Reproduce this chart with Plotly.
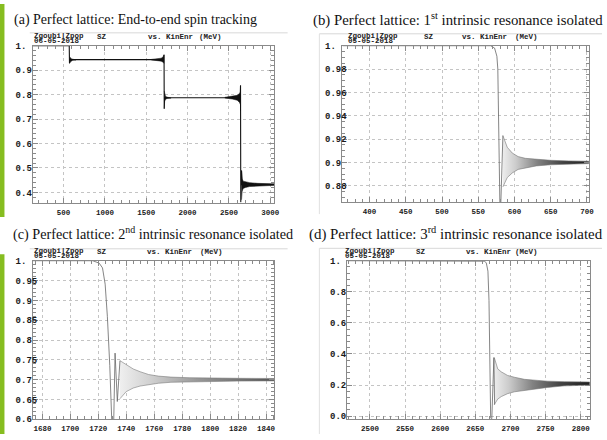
import plotly.graph_objects as go

W, H = 607, 440

# ---------------- data ----------------
# Panel (a): end-to-end tracking, SZ vs kinetic energy (MeV)
a_energy = [130, 568, 571, 575, 1712, 1715, 1717, 1721, 2636, 2640, 2643, 2652, 2658, 3050]
a_sz = [1.0, 1.0, 0.928, 0.943, 0.943, 0.963, 0.742, 0.787, 0.787, 0.838, 0.36, 0.49, 0.432, 0.432]
# ringing envelopes in panel (a)
a1_energy = [573, 580, 592, 610, 650]
a1_upper = [0.955, 0.951, 0.947, 0.945, 0.944]
a1_lower = [0.928, 0.933, 0.938, 0.941, 0.942]
a2_energy = [1560, 1630, 1680, 1705, 1714]
a2_upper = [0.944, 0.946, 0.949, 0.955, 0.963]
a2_lower = [0.942, 0.940, 0.937, 0.932, 0.928]
a3_energy = [1717, 1722, 1732, 1750, 1800]
a3_upper = [0.815, 0.798, 0.793, 0.790, 0.788]
a3_lower = [0.742, 0.772, 0.780, 0.784, 0.786]
a4_energy = [2450, 2540, 2600, 2628, 2638]
a4_upper = [0.789, 0.792, 0.797, 0.805, 0.810]
a4_lower = [0.786, 0.782, 0.777, 0.768, 0.760]
a5_energy = [2652, 2660, 2672, 2700, 2750, 2850, 3050]
a5_upper = [0.490, 0.455, 0.446, 0.443, 0.440, 0.437, 0.435]
a5_lower = [0.370, 0.405, 0.416, 0.420, 0.424, 0.427, 0.429]

# Panel (b): 1st intrinsic resonance
b_energy = [362.5, 567, 572.5, 575.7, 577, 577.9, 578.8, 579.8, 581, 584]
b_sz = [1.0, 1.0, 0.998, 0.991, 0.98, 0.952, 0.91, 0.866, 0.862, 0.923]
b_band_energy = [584, 590, 597, 605, 615, 630, 650, 675, 703]
b_upper = [0.923, 0.913, 0.908, 0.905, 0.9035, 0.9025, 0.9018, 0.9013, 0.901]
b_lower = [0.879, 0.887, 0.891, 0.894, 0.8955, 0.897, 0.898, 0.8985, 0.899]

# Panel (c): 2nd intrinsic resonance
c_energy = [1673.3, 1716, 1720.6, 1723, 1724.9, 1726.5, 1728.2, 1729.6, 1731, 1732, 1733.6, 1735.5]
c_sz = [1.0, 1.0, 0.994, 0.982, 0.941, 0.859, 0.736, 0.6, 0.59, 0.767, 0.645, 0.748]
c_band_energy = [1735.5, 1740, 1745, 1750, 1756, 1763, 1772, 1785, 1800, 1820, 1846]
c_upper = [0.748, 0.737, 0.727, 0.720, 0.713, 0.709, 0.7065, 0.705, 0.704, 0.7035, 0.703]
c_lower = [0.652, 0.670, 0.679, 0.684, 0.688, 0.691, 0.6935, 0.695, 0.696, 0.6965, 0.697]

# Panel (d): 3rd intrinsic resonance
d_energy = [2468, 2660, 2663.4, 2665.7, 2668, 2669.5, 2670.5, 2671.9, 2673.5, 2676.5, 2677.5]
d_sz = [1.0, 1.0, 0.997, 0.985, 0.933, 0.745, 0.43, -0.01, -0.02, 0.377, 0.074]
d_band_energy = [2677, 2682, 2687, 2696, 2706, 2720, 2739, 2753, 2777, 2813]
d_upper = [0.377, 0.304, 0.285, 0.262, 0.250, 0.237, 0.230, 0.225, 0.222, 0.220]
d_lower = [0.074, 0.110, 0.126, 0.145, 0.157, 0.168, 0.178, 0.185, 0.195, 0.200]

# tick values / labels
a_xticks = [500, 1000, 1500, 2000, 2500, 3000]
a_yticks = [0.4, 0.5, 0.6, 0.7, 0.8, 0.9, 1.0]
a_ylabels = ["0.4", "0.5", "0.6", "0.7", "0.8", "0.9", "1."]
b_xticks = [400, 450, 500, 550, 600, 650, 700]
b_yticks = [0.88, 0.9, 0.92, 0.94, 0.96, 0.98, 1.0]
b_ylabels = ["0.88", "0.9", "0.92", "0.94", "0.96", "0.98", "1."]
c_xticks = [1680, 1700, 1720, 1740, 1760, 1780, 1800, 1820, 1840]
c_yticks = [0.6, 0.65, 0.7, 0.75, 0.8, 0.85, 0.9, 0.95, 1.0]
c_ylabels = ["0.6", "0.65", "0.7", "0.75", "0.8", "0.85", "0.9", "0.95", "1."]
d_xticks = [2500, 2550, 2600, 2650, 2700, 2750, 2800]
d_yticks = [0.0, 0.2, 0.4, 0.6, 0.8, 1.0]
d_ylabels = ["0.0", "0.2", "0.4", "0.6", "0.8", "1."]

captions = [
    "(a) Perfect lattice: End-to-end spin tracking",
    "(b) Perfect lattice: 1<sup>st</sup> intrinsic resonance isolated",
    "(c) Perfect lattice: 2<sup>nd</sup> intrinsic resonance isolated",
    "(d) Perfect lattice: 3<sup>rd</sup> intrinsic resonance isolated",
]
dates = ["06-05-2018", "05-05-2018", "05-05-2018", "05-05-2018"]

# ---------------- figure ----------------
def PX(px):
    return px / W


def PY(py):
    return 1 - py / H


fig = go.Figure()


def band(xname, yname, e, up, lo, fillcolor=None, gradient=None, edge="#666", ew=0.6):
    kw = dict(
        x=list(e) + list(reversed(e)),
        y=list(up) + list(reversed(lo)),
        xaxis=xname, yaxis=yname, mode="lines", fill="toself",
        line=dict(color=edge, width=ew), showlegend=False, hoverinfo="skip",
    )
    if gradient is not None:
        kw["fillgradient"] = dict(type="horizontal", colorscale=gradient)
    else:
        kw["fillcolor"] = fillcolor
    fig.add_trace(go.Scatter(**kw))


def curve(xname, yname, e, s, color="#222", width=1):
    fig.add_trace(go.Scatter(x=e, y=s, xaxis=xname, yaxis=yname, mode="lines",
                             line=dict(color=color, width=width),
                             showlegend=False, hoverinfo="skip"))


# panel (a)
for e, up, lo in [(a1_energy, a1_upper, a1_lower), (a2_energy, a2_upper, a2_lower),
                  (a3_energy, a3_upper, a3_lower), (a4_energy, a4_upper, a4_lower),
                  (a5_energy, a5_upper, a5_lower)]:
    band("x", "y", e, up, lo, fillcolor="#111", edge="#111", ew=0.5)
curve("x", "y", a_energy, a_sz, color="#111", width=1.1)

# panel (b)
band("x2", "y2", b_band_energy, b_upper, b_lower,
     gradient=[[0, "#ececec"], [0.15, "#cccccc"], [0.4, "#828282"], [0.7, "#424242"], [1, "#202020"]],
     edge="#777777")
curve("x2", "y2", b_energy, b_sz, color="#666", width=0.8)

# panel (c)
band("x3", "y3", c_band_energy, c_upper, c_lower,
     gradient=[[0, "#efefef"], [0.2, "#d0d0d0"], [0.5, "#989898"], [1, "#555555"]],
     edge="#7c7c7c")
curve("x3", "y3", c_energy, c_sz, color="#666", width=0.8)

# panel (d)
band("x4", "y4", d_band_energy, d_upper, d_lower,
     gradient=[[0, "#ececec"], [0.15, "#cccccc"], [0.4, "#828282"], [0.7, "#424242"], [1, "#202020"]],
     edge="#777777")
curve("x4", "y4", d_energy, d_sz, color="#666", width=0.8)

FRAME = "#8a8a8a"
GRID = "#c4c4c4"
MONO = "Liberation Mono"


def pad(lbls):
    return [l + "\u00a0" * (4 - len(l)) for l in lbls]


def xaxis(domain, rng, ticks, minor_dtick):
    return dict(domain=domain, range=rng, tickmode="array", tickvals=ticks,
                ticktext=[str(t) for t in ticks],
                showline=True, linecolor=FRAME, linewidth=1, mirror="allticks",
                ticks="inside", ticklen=5, tickcolor=FRAME,
                showgrid=True, gridcolor=GRID, griddash="dot", gridwidth=1, zeroline=False,
                tickfont=dict(family=MONO, size=7.5, color="#1a1a1a", weight="bold"),
                minor=dict(ticks="inside", ticklen=3, tickcolor=FRAME, tickmode="linear",
                           tick0=0, dtick=minor_dtick, showgrid=False),
                ticklabelstandoff=2)


def yaxis(domain, rng, ticks, labels, minor_dtick, anchor):
    return dict(domain=domain, range=rng, tickmode="array", tickvals=ticks,
                ticktext=pad(labels), anchor=anchor,
                showline=True, linecolor=FRAME, linewidth=1, mirror="allticks",
                ticks="inside", ticklen=5, tickcolor=FRAME,
                showgrid=True, gridcolor=GRID, griddash="dot", gridwidth=1, zeroline=False,
                tickfont=dict(family=MONO, size=9, color="#1a1a1a", weight="bold"),
                minor=dict(ticks="inside", ticklen=3, tickcolor=FRAME, tickmode="linear",
                           tick0=0, dtick=minor_dtick, showgrid=False),
                ticklabelstandoff=-7)


fig.update_layout(
    width=W, height=H, margin=dict(l=0, r=0, t=0, b=0),
    paper_bgcolor="white", plot_bgcolor="white",
    xaxis=dict(**xaxis([PX(33.3), PX(276.7)], [130, 3050], a_xticks, 100), anchor="y"),
    yaxis=yaxis([PY(203.3), PY(42.7)], [0.358, 1.0], a_yticks, a_ylabels, 0.02, "x"),
    xaxis2=dict(**xaxis([PX(345.3), PX(593.7)], [362.5, 702.6], b_xticks, 10), anchor="y2"),
    yaxis2=yaxis([PY(202.7), PY(42.7)], [0.866, 1.0], b_yticks, b_ylabels, 0.005, "x2"),
    xaxis3=dict(**xaxis([PX(33.3), PX(276.7)], [1673.3, 1846], c_xticks, 5), anchor="y3"),
    yaxis3=yaxis([PY(425), PY(262.7)], [0.6, 1.0], c_yticks, c_ylabels, 0.01, "x3"),
    xaxis4=dict(**xaxis([PX(350.3), PX(594.7)], [2468, 2813], d_xticks, 10), anchor="y4"),
    yaxis4=yaxis([PY(424.3), PY(262.7)], [-0.016, 1.0], d_yticks, d_ylabels, 0.04, "x4"),
)

# captions
cap_pos = [(13, 16.8, 14), (314.7, 16.0, 14.8), (11.7, 235.0, 14.2), (310.3, 235.0, 14.9)]
annotations = []
for txt, (cx, cy, fs) in zip(captions, cap_pos):
    annotations.append(dict(text=txt, x=PX(cx), y=PY(cy), xref="paper", yref="paper",
                            xanchor="left", yanchor="middle", showarrow=False, borderpad=0,
                            font=dict(family="Liberation Serif", size=fs, color="#111")))

# Zgoubi headers
hdr = [
    # (zgoubi_x, top_y, sz_x, vs_x, mev_x)
    (33, 32.4, 97, 148, 200),
    (350.3, 32.4, 427, 464.7, 518.7),
    (33, 252.4, 97, 147, 201),
    (347, 252.4, 418, 468.7, 518),
]
hfont = dict(family=MONO, size=7.5, color="#222", weight="bold")
for (zx, zy, sx, vx, mx), dt in zip(hdr, dates):
    for text, x, y in [("Zgoubi|Zpop", zx, zy), (dt, zx, zy + 5.8), ("SZ", sx, zy + 1.8),
                       ("vs. KinEnr", vx, zy + 1.8), ("(MeV)", mx, zy + 1.8)]:
        annotations.append(dict(text=text, x=PX(x), y=PY(y), xref="paper", yref="paper",
                                xanchor="left", yanchor="middle", showarrow=False,
                                borderpad=0, font=hfont))
fig.update_layout(annotations=annotations)

# decorations: green bar and light image borders
shapes = [
    dict(type="rect", xref="paper", yref="paper", x0=0, x1=PX(4.5), y0=PY(218), y1=1,
         fillcolor="#86bd20", line=dict(width=0)),
    dict(type="rect", xref="paper", yref="paper", x0=0, x1=PX(4.5), y0=0, y1=PY(256),
         fillcolor="#86bd20", line=dict(width=0)),
]
for x0, x1, yy in [(30, 290, 29.5), (322, 607, 30.5), (30, 290, 250.5), (322, 607, 250)]:
    shapes.append(dict(type="line", xref="paper", yref="paper", x0=PX(x0), x1=PX(x1),
                       y0=PY(yy), y1=PY(yy), line=dict(color="#d8d8d8", width=1)))
for xx, y0, y1 in [(322, 30.5, 215), (322, 250, 440)]:
    shapes.append(dict(type="line", xref="paper", yref="paper", x0=PX(xx), x1=PX(xx),
                       y0=PY(y0), y1=PY(y1), line=dict(color="#e0e0e0", width=1)))
fig.update_layout(shapes=shapes)

fig.write_html(
    "out.html",
    config={"displayModeBar": False},
    post_script="document.body.style.margin='0';document.body.style.padding='0';"
                "document.body.style.overflow='hidden';",
)
